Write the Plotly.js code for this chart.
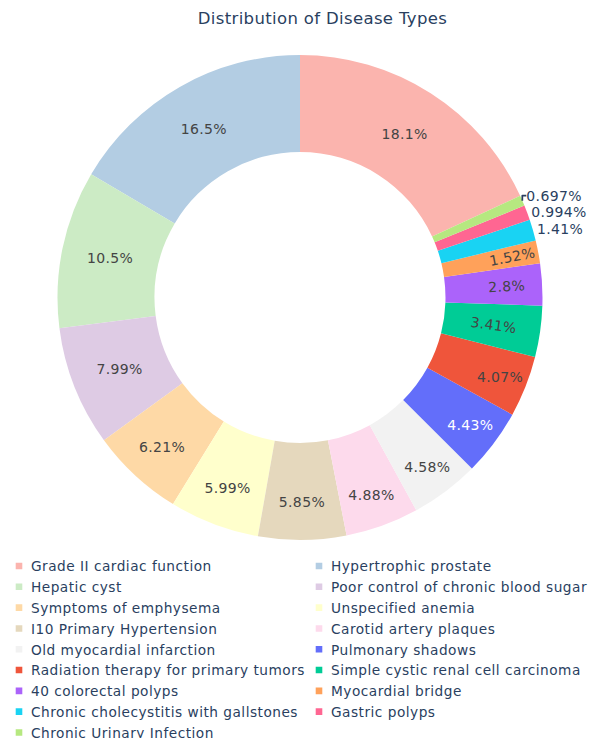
<!DOCTYPE html>
<html>
<head>
<meta charset="utf-8">
<script src="https://cdn.plot.ly/plotly-3.0.1.min.js"></script>
<style>
html,body{margin:0;padding:0;background:#fff;}
#chart{width:596px;height:738px;}
svg text{letter-spacing:0.35px;}
svg text.legendtext{letter-spacing:0.49px;}
</style>
</head>
<body>
<div id="chart"></div>
<script>
const labels = [
  "Grade II cardiac function",
  "Hypertrophic prostate",
  "Hepatic cyst",
  "Poor control of chronic blood sugar",
  "Symptoms of emphysema",
  "Unspecified anemia",
  "I10 Primary Hypertension",
  "Carotid artery plaques",
  "Old myocardial infarction",
  "Pulmonary shadows",
  "Radiation therapy for primary tumors",
  "Simple cystic renal cell carcinoma",
  "40 colorectal polyps",
  "Myocardial bridge",
  "Chronic cholecystitis with gallstones",
  "Gastric polyps",
  "Chronic Urinary Infection"
];
const percentValues = [18.1, 16.5, 10.5, 7.99, 6.21, 5.99, 5.85, 4.88, 4.58, 4.43, 4.07, 3.41, 2.8, 1.52, 1.41, 0.994, 0.697];
const colors = [
  "#fbb4ae", "#b3cde3", "#ccebc5", "#decbe4", "#fed9a6", "#ffffcc", "#e5d8bd", "#fddaec", "#f2f2f2",
  "#636efa", "#EF553B", "#00cc96", "#ab63fa", "#FFA15A", "#19d3f3", "#FF6692", "#B6E880"
];
// label placement per slice (the three thinnest slices are labelled outside the ring)
const textPositions = ["auto", "auto", "auto", "auto", "auto", "auto", "auto", "auto", "auto",
                       "auto", "auto", "auto", "auto", "auto", "outside", "outside", "outside"];

const FONT = '"DejaVu Sans", Verdana, sans-serif';

const trace = {
  type: "pie",
  labels: labels,
  values: percentValues,
  hole: 0.6,
  sort: false,
  direction: "counterclockwise",
  domain: {x: [0.0067, 1], y: [0, 1]},
  marker: {colors: colors},
  texttemplate: "%{value}%",
  textposition: textPositions,
  textfont: {size: 14}
};

const layout = {
  width: 596,
  height: 738,
  font: {family: FONT, size: 14, color: "#2a3f5f"},
  title: {text: "Distribution of Disease Types", x: 322.5 / 596, xanchor: "center", xref: "container", y: 1 - 18/738, yanchor: "middle", yref: "container", font: {size: 16.5, color: "#2a3f5f"}},
  margin: {t: 55, b: 198, l: 0, r: 0},
  paper_bgcolor: "#fff",
  showlegend: true,
  legend: {orientation: "h", xref: "paper", x: 0, xanchor: "left", yref: "container", y: (738 - 550.6) / 738, yanchor: "top",
           font: {size: 13.7, color: "#2a3f5f"}, entrywidth: 255, entrywidthmode: "pixels", maxheight: 400}
};

Plotly.newPlot("chart", [trace], layout, {displayModeBar: false, staticPlot: true}).then(function (gd) {
  // finer legend styling: smaller swatches closer to the labels, shifted left like the reference
  const leg = gd.querySelector("g.legend");
  if (leg) {
    const m = /translate\(([-\d.]+),\s*([-\d.]+)\)/.exec(leg.getAttribute("transform") || "");
    if (m) leg.setAttribute("transform", "translate(" + (parseFloat(m[1]) - 9) + "," + m[2] + ")");
  }
  gd.querySelectorAll("g.legendpoints path.legendpie").forEach(function (p) {
    p.setAttribute("transform", "translate(28,0) scale(0.55)");
  });
});
</script>
</body>
</html>
